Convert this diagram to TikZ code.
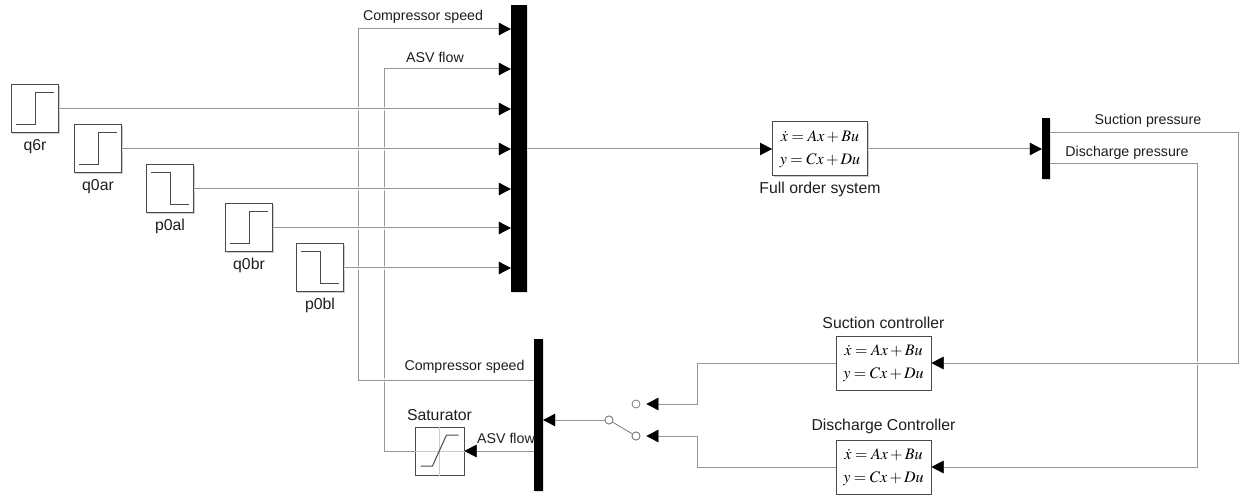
\documentclass[tikz,border=0pt]{standalone}
\usepackage{mathptmx}
\usepackage{fontspec}
\setmainfont{Liberation Sans}
\usetikzlibrary{positioning,calc,arrows.meta,shadows}
\definecolor{wiregray}{HTML}{969696}
\definecolor{edgegray}{HTML}{4A4A4A}
\definecolor{textgray}{HTML}{1E1E1E}
\newcommand{\ssblock}{$\dot{x}=Ax+Bu$\\$y=Cx+Du$}

\begin{document}
\begin{tikzpicture}[x=1pt, y=-1pt, node distance=5.5pt, >={Triangle[length=12pt,width=12pt,black]},
  blk/.style={draw=edgegray, line width=1pt, fill=white, inner sep=0pt, drop shadow={shadow xshift=1.2pt, shadow yshift=-1.2pt, opacity=0.4}},
  src/.style={blk, minimum width=47.5pt, minimum height=48pt},
  ss/.style={blk, minimum width=95pt, minimum height=54pt, align=center, font=\fontsize{16}{23}\selectfont},
  bar/.style={fill=black, inner sep=0pt, drop shadow={shadow xshift=1pt, shadow yshift=-1pt, opacity=0.25}},
  txt/.style={inner sep=0pt, text=textgray, font=\fontsize{14.2}{16}\selectfont},
  blktxt/.style={inner sep=0pt, text=textgray, font=\fontsize{15.8}{18}\selectfont},
  contact/.style={circle, draw=wiregray!80!black, fill=white, line width=0.8pt, inner sep=0pt, minimum size=8pt},
  wire/.style={draw=wiregray, line width=1pt, preaction={draw=white, draw opacity=0.7, line width=3.5pt}},
  icon/.style={draw=edgegray, line width=1pt}]
\useasboundingbox (0,0) rectangle (1243,497);

\node (q6r) [src] at (35,109) {};
\node (q0ar) [src] at (98,149) {};
\node (p0al) [src] at (170,189) {};
\node (q0br) [src] at (249,228) {};
\node (p0bl) [src] at (320,268) {};
\node (q6rlab) [blktxt, below=of q6r] {q6r};
\node (q0arlab) [blktxt, below=of q0ar] {q0ar};
\node (p0allab) [blktxt, below=of p0al] {p0al};
\node (q0brlab) [blktxt, below=of q0br] {q0br};
\node (p0bllab) [blktxt, below=of p0bl] {p0bl};

\foreach \blkname/\dir in {q6r/1,q0ar/1,p0al/-1,q0br/1,p0bl/-1}
  \draw[icon] ([shift={(-19,16*\dir)}]\blkname.center) -- ([shift={(0,16*\dir)}]\blkname.center)
    -- ([shift={(0,-16*\dir)}]\blkname.center) -- ([shift={(19,-16*\dir)}]\blkname.center);

\node (muxa) [bar, minimum width=16pt, minimum height=287pt] at (519,148.5) {};
\node (muxb) [bar, minimum width=9pt, minimum height=152pt] at (538.5,415) {};
\node (demux) [bar, minimum width=8pt, minimum height=61pt] at (1046,148.5) {};

\node (plant) [ss] at (820,149) {\ssblock};
\node (plantlab) [blktxt, below=of plant] {Full order system};
\node (succtrl) [ss] at (883.5,363) {\ssblock};
\node (succtrllab) [blktxt, above=7pt of succtrl] {Suction controller};
\node (disctrl) [ss] at (883.5,467) {\ssblock};
\node (disctrllab) [blktxt, above=of disctrl] {Discharge Controller};

\node (sat) [blk, minimum width=49pt, minimum height=48pt] at (439.5,451) {};
\node (satlab) [blktxt, above=of sat] {Saturator};
\draw[draw=black!20, line width=1pt] (sat.north) -- (sat.south);
\draw[draw=black!20, line width=1pt] (sat.west) -- (sat.east);
\draw[icon] ([shift={(-19,15)}]sat.center) -- ([shift={(-7,15)}]sat.center)
  -- ([shift={(7,-16)}]sat.center) -- ([shift={(19,-16)}]sat.center);

\node (swcom) [contact] at (609,420) {};
\node (swa) [contact] at (636,404) {};
\node (swb) [contact] at (636,436) {};

\coordinate (asvtop) at (384,69);
\coordinate (asvbot) at (384,451);
\coordinate (cstop) at (358,29);
\coordinate (csbot) at (358,380);
\coordinate (sucr) at (1238,133);
\coordinate (disr) at (1197,164);

\draw[wire, ->] (sat.west) -- (asvbot) -- (asvtop) -- (muxa.west |- asvtop);
\draw[wire, ->] (muxb.west |- csbot) -- (csbot) -- (cstop) -- (muxa.west |- cstop);
\foreach \blkname in {q6r,q0ar,p0al,q0br,p0bl}
  \draw[wire, ->] (\blkname.east) -- (muxa.west |- \blkname.east);
\draw[wire, ->] (muxa.east |- plant.west) -- (plant.west);
\draw[wire, ->] (plant.east) -- (demux.west |- plant.east);
\draw[wire, ->] (demux.east |- disr) -- (disr) -- (disr |- disctrl.east) -- (disctrl.east);
\draw[wire, ->] (demux.east |- sucr) -- (sucr) -- (sucr |- succtrl.east) -- (succtrl.east);
\draw[wire, ->, shorten >=6pt] (succtrl.west) -| (697,404) -- (swa.east);
\draw[wire, ->, shorten >=6pt] (disctrl.west) -| (697,436) -- (swb.east);
\draw[wire, ->] (swcom.west) -- (muxb.east |- swcom.west);
\draw[wire, ->] (muxb.west |- sat.east) -- (sat.east);
\draw[draw=wiregray!80!black, line width=0.8pt] (swcom) -- (swb);
\node [contact] at (swcom) {};
\node [contact] at (swb) {};

\node (csa) [txt] at (423,17) {Compressor speed};
\node (asva) [txt] at (435,57) {ASV flow};
\node (csb) [txt] at (464.5,367) {Compressor speed};
\node (asvb) [txt] at (506,438) {ASV flow};
\node (sucp) [txt] at (1148,121) {Suction pressure};
\node (disp) [txt] at (1127,153) {Discharge pressure};
\end{tikzpicture}
\end{document}
